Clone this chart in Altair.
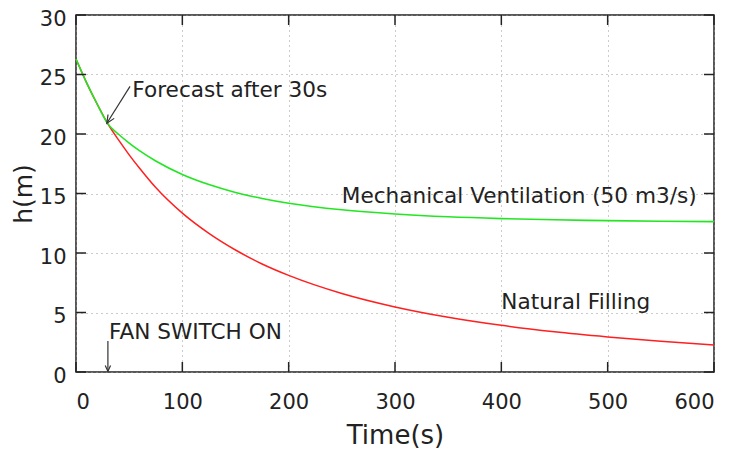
import altair as alt
import pandas as pd

# ---- data ----
time_shared = [0, 10, 20, 30]
h_shared = [26.3, 24.3, 22.5, 20.85]

time_after = [40, 50, 60, 75, 100, 125, 150, 175, 200, 250, 300, 350, 400, 450, 500, 550, 600]
h_natural = [19.5, 18.25, 17.1, 15.5, 13.35, 11.65, 10.25, 9.08, 8.12, 6.6, 5.47, 4.6, 3.92, 3.38, 2.95, 2.58, 2.27]
h_mechanical = [19.98, 19.24, 18.58, 17.73, 16.6, 15.75, 15.09, 14.58, 14.18, 13.63, 13.28, 13.04, 12.89, 12.79, 12.72, 12.67, 12.64]

x_ticks = [0, 100, 200, 300, 400, 500, 600]
y_ticks = [0, 5, 10, 15, 20, 25, 30]

label_text = ["Forecast after 30s", "FAN SWITCH ON", "Mechanical Ventilation (50 m3/s)", "Natural Filling"]
label_x = [53, 31, 250, 400]
label_y = [23.6, 3.3, 14.7, 5.8]

arrow1_x = [50.8, 29.0]   # Forecast arrow: start, end
arrow1_y = [24.0, 20.9]
arrow2_x = [30, 30]       # Fan switch arrow
arrow2_y = [2.6, 0.05]

W, H = 638, 357
FONT = "DejaVu Sans"
TICK_LEN = 10

rows = []
for t, h in zip(time_shared, h_shared):
    rows.append({"t": t, "h": h, "series": "natural", "o": t})
    rows.append({"t": t, "h": h, "series": "mech", "o": t})
for t, hn, hm in zip(time_after, h_natural, h_mechanical):
    rows.append({"t": t, "h": hn, "series": "natural", "o": t})
    rows.append({"t": t, "h": hm, "series": "mech", "o": t})
df = pd.DataFrame(rows)

xs = alt.Scale(domain=[0, 600], nice=False)
ys = alt.Scale(domain=[0, 30], nice=False)

x_axis = alt.Axis(values=x_ticks, title="Time(s)", grid=True, ticks=False, domain=False,
                  labelFontSize=21, titleFontSize=26, labelPadding=19, titlePadding=10,
                  labelFont=FONT, titleFont=FONT, labelColor="#222", titleColor="#222",
                  titleFontWeight="normal", gridColor="#999", gridDash=[1, 4], gridWidth=1)
y_axis = alt.Axis(values=y_ticks, title="h(m)", grid=True, ticks=False, domain=False,
                  labelFontSize=21, titleFontSize=25, labelPadding=10, titlePadding=3,
                  labelOffset=4,
                  labelFont=FONT, titleFont=FONT, labelColor="#222", titleColor="#222",
                  titleFontWeight="normal", gridColor="#999", gridDash=[1, 4], gridWidth=1)

base_grid = alt.Chart(df).mark_line(opacity=0).encode(
    x=alt.X("t:Q", scale=xs, axis=x_axis),
    y=alt.Y("h:Q", scale=ys, axis=y_axis),
)

red = alt.Chart(df[df.series == "natural"]).mark_line(
    color="#ff1f1f", strokeWidth=1.5, interpolate="monotone").encode(
    x=alt.X("t:Q", scale=xs), y=alt.Y("h:Q", scale=ys), order="o:Q")
green = alt.Chart(df[df.series == "mech"]).mark_line(
    color="#22e622", strokeWidth=1.6, interpolate="monotone").encode(
    x=alt.X("t:Q", scale=xs), y=alt.Y("h:Q", scale=ys), order="o:Q")

xt = pd.DataFrame({"v": x_ticks})
yt = pd.DataFrame({"v": y_ticks})
tick_style = dict(color="#222", strokeWidth=1.5)
xt_bottom = alt.Chart(xt).mark_rule(**tick_style).encode(
    x=alt.X("v:Q", scale=xs), y=alt.value(H), y2=alt.value(H - TICK_LEN))
xt_top = alt.Chart(xt).mark_rule(**tick_style).encode(
    x=alt.X("v:Q", scale=xs), y=alt.value(0), y2=alt.value(TICK_LEN))
yt_left = alt.Chart(yt).mark_rule(**tick_style).encode(
    y=alt.Y("v:Q", scale=ys), x=alt.value(0), x2=alt.value(TICK_LEN))
yt_right = alt.Chart(yt).mark_rule(**tick_style).encode(
    y=alt.Y("v:Q", scale=ys), x=alt.value(W), x2=alt.value(W - TICK_LEN))

labels = alt.Chart(pd.DataFrame({"text": label_text, "x": label_x, "y": label_y})).mark_text(
    align="left", baseline="middle", fontSize=21.6, font=FONT, color="#222"
).encode(x=alt.X("x:Q", scale=xs), y=alt.Y("y:Q", scale=ys), text="text:N")

a1 = pd.DataFrame({"x": arrow1_x, "y": arrow1_y, "o": [0, 1]})
a2 = pd.DataFrame({"x": arrow2_x, "y": arrow2_y, "o": [0, 1]})
arrow_style = dict(color="#333", strokeWidth=1.2)
shaft1 = alt.Chart(a1).mark_line(**arrow_style).encode(
    x=alt.X("x:Q", scale=xs), y=alt.Y("y:Q", scale=ys), order="o:Q")
shaft2 = alt.Chart(a2).mark_line(**arrow_style).encode(
    x=alt.X("x:Q", scale=xs), y=alt.Y("y:Q", scale=ys), order="o:Q")
head_shape = "M-0.45,-1 L0,0 L0.45,-1"
head1 = alt.Chart(a1[a1.o == 1]).mark_point(shape=head_shape, size=260, filled=False,
                                              color="#333", strokeWidth=1.2, angle=32, opacity=1).encode(
    x=alt.X("x:Q", scale=xs), y=alt.Y("y:Q", scale=ys))
head2 = alt.Chart(a2[a2.o == 1]).mark_point(shape=head_shape, size=140, filled=False,
                                              color="#333", strokeWidth=1.2, angle=0, opacity=1).encode(
    x=alt.X("x:Q", scale=xs), y=alt.Y("y:Q", scale=ys))

chart = alt.layer(
    base_grid, red, green, xt_bottom, xt_top, yt_left, yt_right,
    shaft1, head1, shaft2, head2, labels
).properties(
    width=W, height=H,
    autosize=alt.AutoSizeParams(type="none"),
    padding={"left": 68, "top": 7, "right": 18, "bottom": 85},
    background="white",
).configure_view(stroke="#222", strokeWidth=1.5)

chart.save("out.html", embed_options={"renderer": "svg", "actions": False})
